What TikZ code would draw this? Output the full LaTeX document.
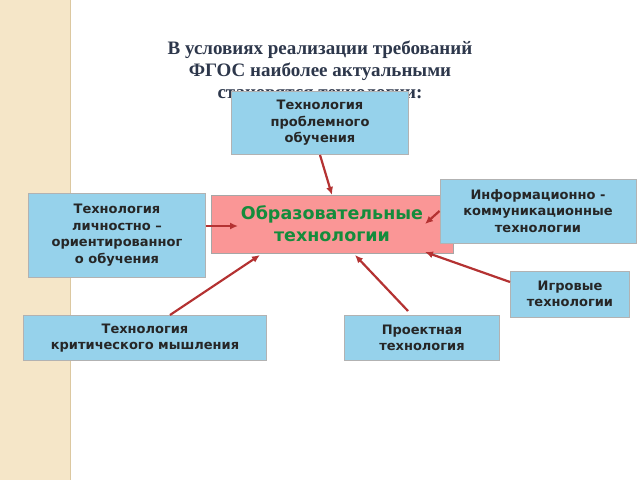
\documentclass[tikz,border=0pt]{standalone}
\usepackage{fontspec}
\setmainfont{Liberation Serif}
\newfontfamily\dvs{DejaVu Sans}
\usetikzlibrary{arrows.meta}
\definecolor{strip}{RGB}{245,230,200}
\definecolor{stripline}{RGB}{220,200,160}
\definecolor{titlec}{RGB}{45,55,75}
\definecolor{boxblue}{RGB}{150,210,235}
\definecolor{boxred}{RGB}{250,150,150}
\definecolor{greent}{RGB}{20,140,60}
\definecolor{arrowc}{RGB}{180,50,50}
\begin{document}
\begin{tikzpicture}[x=1pt,y=-1pt,
  bx/.style={draw=gray!60,line width=1pt,fill=boxblue,inner sep=0pt,font=\dvs\bfseries\fontsize{13}{16.5}\selectfont,text=black!85,align=center},
  ar/.style={draw=arrowc,line width=2.2pt,-{Latex[length=8pt,width=7pt]}}]
\useasboundingbox (0,0) rectangle (640,480);
\fill[white] (0,0) rectangle (640,480);
\fill[strip] (0,0) rectangle (70,480);
\draw[stripline,line width=1pt] (70,0) -- (70,480);
\node[font=\bfseries\fontsize{19}{22}\selectfont,text=titlec,align=center] (title) at (320,70) {В условиях реализации требований\\ФГОС наиболее актуальными\\становятся технологии:};
\node[bx,minimum width=177,minimum height=63] (top) at (320,123) {Технология\\проблемного\\обучения};
\node[draw=gray!70,line width=1pt,fill=boxred,minimum width=242,minimum height=58,inner sep=0pt,font=\dvs\bfseries\fontsize{17.5}{22}\selectfont,text=greent,align=center] (c) at (332,224) {Образовательные\\технологии};
\node[bx,minimum width=177,minimum height=84] (l) at (117,235) {Технология\\личностно –\\ориентированног\\о обучения};
\node[bx,minimum width=196,minimum height=64] (i) at (538,211) {Информационно -\\коммуникационные\\технологии};
\node[bx,minimum width=119,minimum height=46] (g) at (570,294) {Игровые\\технологии};
\node[bx,minimum width=155,minimum height=45] (p) at (422,338) {Проектная\\технология};
\node[bx,minimum width=243,minimum height=45] (k) at (145,338) {Технология\\критического мышления};
\coordinate (ct) at (332,195);
\coordinate (cl) at (238,226);
\coordinate (ci) at (425,224);
\coordinate (cg) at (425,252);
\coordinate (cp) at (355,255);
\coordinate (ck) at (260,255);
\draw[ar] (top.south) -- (ct);
\draw[ar] (l.east |- cl) -- (cl);
\draw[ar] (i.west) -- (ci);
\draw[ar] (g.west) ++(0,-12) -- (cg);
\draw[ar] (p.north) ++(-14,-4) -- (cp);
\draw[ar] (k.north) ++(25,0) -- (ck);
\end{tikzpicture}
\end{document}
